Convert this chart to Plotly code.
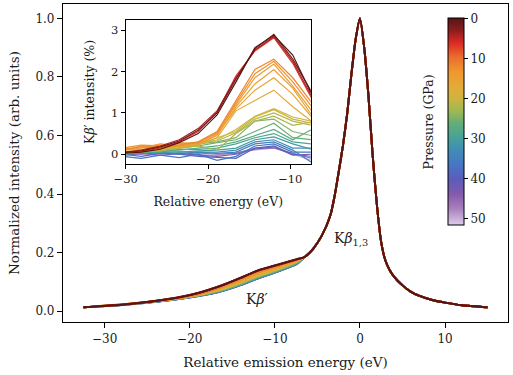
import plotly.graph_objects as go
from plotly.colors import sample_colorscale

# ---------------- data ----------------
pressures = [0, 2, 4, 6.5, 12, 13, 14, 15, 16, 17, 19.5, 20.5, 21.5, 22.5,
             24.5, 26, 27.5, 29, 31, 33, 35, 37, 39, 42, 45, 50]

inset_energy = [-30.4, -28.1, -25.8, -23.5, -21.2, -18.9, -16.6, -14.3, -12.0, -9.7, -7.4]

kb_prime = [
    [0.02, 0.05, 0.12, 0.28, 0.50, 0.95, 1.75, 2.58, 2.88, 2.40, 1.45],
    [0.05, 0.08, 0.18, 0.32, 0.58, 1.00, 1.82, 2.55, 2.90, 2.30, 1.50],
    [0.03, 0.10, 0.20, 0.35, 0.62, 1.05, 1.85, 2.52, 2.85, 2.25, 1.40],
    [0.05, 0.06, 0.15, 0.30, 0.55, 1.02, 1.90, 2.50, 2.82, 2.20, 1.35],
    [0.12, 0.18, 0.15, 0.22, 0.30, 0.55, 1.30, 2.05, 2.30, 1.85, 1.25],
    [0.15, 0.22, 0.20, 0.25, 0.28, 0.50, 1.25, 1.95, 2.25, 1.75, 1.15],
    [0.10, 0.15, 0.25, 0.20, 0.28, 0.52, 1.20, 1.85, 2.18, 1.65, 1.05],
    [0.08, 0.20, 0.18, 0.28, 0.25, 0.45, 1.15, 1.70, 2.05, 1.60, 0.95],
    [0.12, 0.10, 0.22, 0.18, 0.22, 0.48, 1.10, 1.55, 1.85, 1.45, 0.90],
    [0.05, 0.12, 0.15, 0.20, 0.25, 0.40, 1.05, 1.30, 1.55, 1.15, 0.80],
    [0.05, 0.08, 0.12, 0.18, 0.25, 0.35, 0.60, 0.92, 1.10, 0.90, 0.80],
    [0.02, 0.05, 0.10, 0.20, 0.22, 0.40, 0.55, 0.90, 1.08, 0.85, 0.75],
    [0.05, 0.10, 0.15, 0.15, 0.30, 0.32, 0.52, 0.85, 1.00, 0.80, 0.70],
    [0.00, 0.06, 0.08, 0.15, 0.20, 0.10, 0.50, 0.80, 0.92, 0.70, 0.78],
    [0.05, 0.10, 0.12, 0.20, 0.25, 0.30, 0.40, 0.80, 0.85, 0.55, 0.45],
    [0.02, 0.08, 0.10, 0.15, 0.20, 0.28, 0.35, 0.55, 0.75, 0.40, 0.35],
    [0.00, 0.05, 0.08, 0.10, 0.15, 0.20, 0.30, 0.45, 0.60, 0.35, 0.60],
    [0.00, 0.04, 0.05, 0.12, 0.12, 0.15, 0.25, 0.40, 0.50, 0.30, 0.25],
    [0.02, 0.03, 0.06, 0.05, 0.08, 0.10, 0.15, 0.35, 0.42, 0.25, 0.12],
    [-0.02, 0.05, 0.04, 0.06, 0.05, 0.05, 0.10, 0.30, 0.35, 0.15, 0.15],
    [0.00, 0.02, 0.03, 0.02, 0.05, 0.02, 0.05, 0.25, 0.30, 0.10, -0.20],
    [-0.05, -0.10, -0.02, -0.08, 0.00, -0.15, -0.05, 0.20, 0.25, 0.05, 0.05],
    [0.00, -0.05, 0.02, 0.00, -0.05, -0.08, -0.10, 0.15, 0.20, 0.00, -0.05],
    [-0.03, 0.02, -0.03, 0.02, -0.02, -0.05, 0.00, 0.12, 0.18, -0.02, 0.00],
    [0.02, 0.00, 0.05, 0.00, 0.03, 0.00, 0.02, 0.15, 0.15, 0.02, -0.10],
    [0.00, 0.03, 0.00, 0.02, 0.00, -0.03, 0.05, 0.10, 0.15, 0.00, -0.15],
]

main_energy = [-32.5, -30.4, -28.1, -25.8, -23.5, -21.2, -18.9, -16.6, -14.3, -12.0, -9.7, -7.4,
               -6.5, -5.5, -4.5, -3.5, -3.0, -2.5, -2.0, -1.5, -1.0, -0.5, 0.0,
               0.5, 1.0, 1.5, 2.0, 2.5, 3.0, 3.5, 4.0, 5.0, 6.0, 7.0, 8.5, 10.0, 12.0, 15.0]
main_base = [0.013, 0.017, 0.021, 0.027, 0.034, 0.042, 0.053, 0.066, 0.085, 0.110, 0.135, 0.163,
             0.185, 0.213, 0.257, 0.325, 0.390, 0.475, 0.565, 0.675, 0.810, 0.930, 1.000,
             0.900, 0.735, 0.530, 0.360, 0.235, 0.172, 0.140, 0.118, 0.088, 0.066, 0.052, 0.038,
             0.029, 0.020, 0.013]

pressure_max = 51.6
cbar_ticks = [0, 10, 20, 30, 40, 50]

# colormap (pressure fraction -> colour)
cmap = [
    [0.00, "#561616"], [0.06, "#8c1c1c"], [0.12, "#dd2a25"], [0.19, "#ea6e2e"],
    [0.26, "#f0972f"], [0.33, "#e4aa38"], [0.39, "#ccb53e"], [0.45, "#9eb853"],
    [0.51, "#63ad78"], [0.57, "#48a496"], [0.64, "#3f8db6"], [0.71, "#4775c4"],
    [0.78, "#5c5cbb"], [0.85, "#845aab"], [0.92, "#a87fbd"], [1.00, "#ddcde8"],
]
cb_scale = [[1 - f, c] for f, c in reversed(cmap)]

FONT = "DejaVu Serif"
TXT = "#1a1a1a"

fig = go.Figure()

order = sorted(range(len(pressures)), key=lambda i: -pressures[i])
delta_lookup = [dict(zip(inset_energy, kb_prime[i])) for i in range(len(pressures))]

for i in order:
    col = sample_colorscale(cmap, [pressures[i] / pressure_max])[0]
    ys = [b + delta_lookup[i].get(e, 0.0) / 100.0 for e, b in zip(main_energy, main_base)]
    fig.add_trace(go.Scatter(x=main_energy, y=ys, mode="lines",
                             line=dict(color=col, width=1.9, shape="spline", smoothing=0.6),
                             showlegend=False, hoverinfo="skip", xaxis="x", yaxis="y"))

for i in order:
    col = sample_colorscale(cmap, [pressures[i] / pressure_max])[0]
    fig.add_trace(go.Scatter(x=inset_energy, y=kb_prime[i], mode="lines",
                             line=dict(color=col, width=1.2), showlegend=False,
                             hoverinfo="skip", xaxis="x2", yaxis="y2"))

# colour bar via dummy trace
fig.add_trace(go.Scatter(
    x=[None] * len(pressures), y=[None] * len(pressures), mode="markers",
    marker=dict(color=[-p for p in pressures], colorscale=cb_scale,
                cmin=-pressure_max, cmax=0, showscale=True,
                colorbar=dict(x=0.866, xanchor="left", xref="paper",
                              y=0.955, yanchor="top", yref="paper",
                              len=207, lenmode="pixels",
                              thickness=16, thicknessmode="pixels",
                              outlinewidth=1, outlinecolor="black",
                              ticks="outside", ticklen=4, tickwidth=1, tickcolor="black",
                              tickvals=[-t for t in cbar_ticks],
                              ticktext=[str(t) for t in cbar_ticks],
                              tickfont=dict(family=FONT, size=12, color=TXT),
                              xpad=0, ypad=0)),
    showlegend=False, hoverinfo="skip", xaxis="x", yaxis="y"))

axis_common = dict(showgrid=False, zeroline=False, showline=True, mirror=True,
                   linecolor="black", linewidth=1.2, ticks="outside", ticklen=5,
                   tickwidth=1, tickcolor="black",
                   tickfont=dict(family=FONT, size=12, color=TXT))
inset_common = {**axis_common, "tickfont": dict(family=FONT, size=11.5, color=TXT),
                "ticklen": 4}

fig.update_layout(
    width=513, height=375,
    margin=dict(l=63, r=5, t=4, b=53),
    paper_bgcolor="white", plot_bgcolor="white",
    font=dict(family=FONT, color=TXT),
    xaxis=dict(range=[-34.9, 17.4], tickvals=[-30, -20, -10, 0, 10],
               title=dict(text="Relative emission energy (eV)",
                          font=dict(family=FONT, size=13.5, color=TXT), standoff=13),
               **axis_common),
    yaxis=dict(range=[-0.037, 1.049], tickvals=[0, 0.2, 0.4, 0.6, 0.8, 1.0],
               tickformat=".1f",
               title=dict(text="Normalized intensity (arb. units)",
                          font=dict(family=FONT, size=13.5, color=TXT), standoff=12),
               **axis_common),
    xaxis2=dict(domain=[0.141, 0.557], anchor="y2", range=[-30, -7.5],
                tickvals=[-30, -20, -10],
                title=dict(text="Relative energy (eV)",
                           font=dict(family=FONT, size=12.5, color=TXT), standoff=12),
                **inset_common),
    yaxis2=dict(domain=[0.497, 0.950], anchor="x2", range=[-0.235, 3.25],
                tickvals=[0, 1, 2, 3],
                title=dict(text="K<i>β</i>′ intensity (%)",
                           font=dict(family=FONT, size=12.5, color=TXT), standoff=13),
                **inset_common),
    annotations=[
        dict(x=-1.0, y=0.245, xref="x", yref="y", text="K<i>β</i><sub>1,3</sub>",
             showarrow=False, font=dict(family=FONT, size=14, color=TXT)),
        dict(x=-12.1, y=0.04, xref="x", yref="y", text="K<i>β</i>′",
             showarrow=False, font=dict(family=FONT, size=14, color=TXT)),
        dict(x=(438 - 63) / 445, y=1 - (122 - 4) / 318, xref="paper", yref="paper",
             text="Pressure (GPa)", textangle=-90, showarrow=False,
             font=dict(family=FONT, size=12.5, color=TXT)),
    ],
)

fig.write_html("out.html")
